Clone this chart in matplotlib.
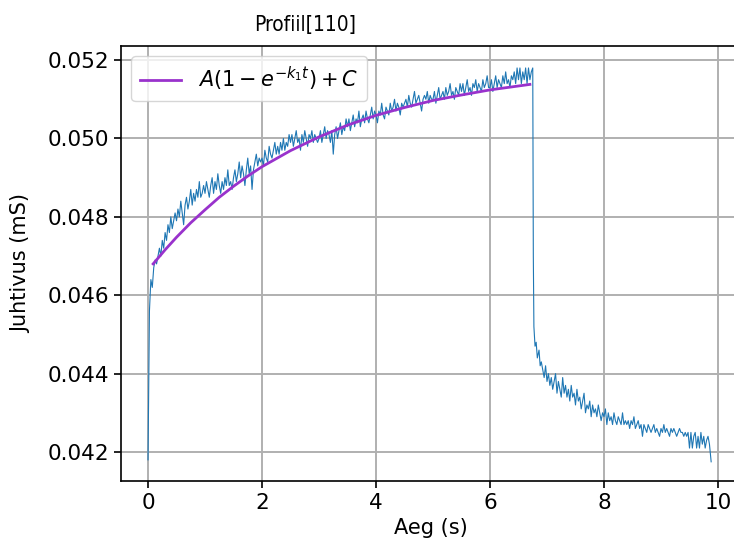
import numpy as np
import matplotlib
matplotlib.use("Agg")
import matplotlib.pyplot as plt

# ----- measured signal, in units of 1e-5 mS, read off the reference -----
# rising part, every 0.025 s from t = 0 to t = 6.75
t_rise = np.round(np.arange(0, 6.76, 0.025), 3)
g_rise = np.array([
    4180, 4560, 4640, 4620, 4670, 4690, 4680, 4700, 4720, 4700, 4740, 4720, 4760, 4740, 4780, 4760, 4800, 4770, 4790, 4810,
    4790, 4820, 4800, 4840, 4810, 4780, 4830, 4850, 4820, 4840, 4870, 4830, 4860, 4840, 4870, 4850, 4890, 4850, 4860, 4880,
    4860, 4890, 4870, 4850, 4880, 4900, 4860, 4890, 4870, 4910, 4880, 4860, 4890, 4870, 4900, 4880, 4920, 4880, 4890, 4870,
    4900, 4920, 4890, 4910, 4940, 4900, 4930, 4910, 4880, 4920, 4950, 4910, 4930, 4870, 4920, 4940, 4960, 4930, 4950, 4940,
    4950, 4930, 4970, 4950, 4940, 4980, 4960, 4950, 4970, 4990, 4960, 4980, 4960, 4990, 4970, 5000, 4970, 4990, 4980, 5010,
    4990, 5010, 4980, 5000, 5020, 4990, 5000, 4970, 5010, 4990, 5020, 5000, 4980, 5010, 5000, 5020, 4990, 5010, 5000, 4990,
    5000, 5020, 4990, 5010, 5030, 5000, 5020, 5010, 4990, 5020, 4960, 5010, 5030, 5000, 5020, 5040, 5010, 5030, 5020, 5050,
    5030, 5050, 5020, 5040, 5060, 5030, 5050, 5040, 5070, 5030, 5050, 5060, 5040, 5070, 5050, 5040, 5060, 5080, 5050, 5070,
    5060, 5040, 5070, 5060, 5090, 5060, 5050, 5080, 5070, 5060, 5090, 5070, 5080, 5100, 5070, 5090, 5080, 5060, 5090, 5080,
    5090, 5100, 5080, 5110, 5090, 5080, 5100, 5120, 5090, 5100, 5110, 5090, 5070, 5100, 5110, 5100, 5120, 5090, 5110, 5100,
    5100, 5120, 5090, 5110, 5130, 5100, 5110, 5120, 5100, 5130, 5110, 5120, 5140, 5110, 5120, 5100, 5130, 5120, 5110, 5140,
    5120, 5140, 5110, 5130, 5150, 5120, 5130, 5110, 5140, 5130, 5150, 5120, 5140, 5130, 5120, 5150, 5130, 5140, 5160, 5130,
    5130, 5150, 5120, 5140, 5160, 5130, 5150, 5140, 5130, 5160, 5140, 5170, 5140, 5150, 5130, 5160, 5150, 5170, 5140, 5180,
    5150, 5180, 5140, 5170, 5150, 5180, 5140, 5180, 5150, 5170, 5180,
]) * 1e-5

# switch-off drop
t_drop = np.array([6.76, 6.77, 6.79, 6.81, 6.83, 6.86, 6.88, 6.90])
g_drop = np.array([4700, 4520, 4470, 4480, 4440, 4460, 4420, 4430]) * 1e-5

# decay, every 0.025 s from t = 6.925 to t = 9.85
t_decay = np.round(np.arange(6.925, 9.86, 0.025), 3)
g_decay = np.array([
    4410, 4390, 4420, 4380, 4400, 4370, 4390, 4360, 4380, 4400, 4350, 4380, 4360, 4340, 4390, 4350, 4370, 4340, 4360, 4330,
    4370, 4340, 4350, 4320, 4360, 4330, 4340, 4310, 4330, 4350, 4300, 4320, 4310, 4330, 4290, 4320, 4300, 4310, 4290, 4320,
    4300, 4280, 4300, 4290, 4310, 4270, 4300, 4280, 4290, 4270, 4300, 4280, 4270, 4290, 4280, 4270, 4300, 4270, 4280, 4270,
    4280, 4260, 4280, 4270, 4290, 4260, 4270, 4280, 4260, 4270, 4240, 4270, 4260, 4250, 4270, 4260, 4250, 4260, 4270, 4250,
    4260, 4250, 4240, 4260, 4250, 4270, 4250, 4260, 4250, 4240, 4260, 4250, 4260, 4250, 4240, 4250, 4260, 4250, 4250, 4240,
    4250, 4240, 4250, 4210, 4250, 4210, 4240, 4250, 4210, 4240, 4210, 4250, 4220, 4240, 4210, 4230, 4240, 4220,
]) * 1e-5
t_end = np.array([9.88])
g_end = np.array([4175]) * 1e-5

# ----- fitted curve A(1-exp(-k1 t)) + C -----
t_fit = [0.09, 0.3, 0.5, 0.75, 1.0, 1.25, 1.5, 1.75, 2.0, 2.5, 3.0, 3.5,
         4.0, 4.5, 5.0, 5.5, 6.0, 6.5, 6.7]
g_fit = [0.04680, 0.04716, 0.04748, 0.04785, 0.04818, 0.04850, 0.04878,
         0.04904, 0.04928, 0.04969, 0.05004, 0.05034, 0.05059, 0.05079,
         0.05097, 0.05111, 0.05124, 0.05134, 0.05138]

t = np.concatenate([t_rise, t_drop, t_decay, t_end])
g = np.concatenate([g_rise, g_drop, g_decay, g_end])

fig = plt.figure(figsize=(7.34, 5.47), dpi=100)
ax = fig.add_axes([121 / 734, 1 - 481 / 547, (740 - 121) / 734, 435 / 547])

ax.plot(t, g, color="tab:blue", lw=0.8)
ax.plot(t_fit, g_fit, color="darkorchid", lw=2,
        label=r"$A(1-e^{-k_1 t})+C$")

ax.set_xlim(-0.474, 10.386)
ax.set_ylim(0.04126, 0.05236)
ax.set_xticks([0, 2, 4, 6, 8, 10])
ax.set_yticks([0.042, 0.044, 0.046, 0.048, 0.050, 0.052])
ax.set_yticklabels(["0.042", "0.044", "0.046", "0.048", "0.050", "0.052"])
ax.tick_params(labelsize=15.5, width=1.2, length=5)
for s in ax.spines.values():
    s.set_linewidth(1.2)

ax.set_xlabel("Aeg (s)", fontsize=15)
ax.set_ylabel("Juhtivus (mS)", fontsize=15, labelpad=12)
fig.text(305 / 734, 1 - 25 / 547, "Profiil[110]", fontsize=15,
         stretch="condensed", ha="center", va="center")

ax.grid(True, color="#b0b0b0", lw=1.4)
ax.legend(loc="upper left", fontsize=15)

fig.savefig("out.png", dpi=100)
